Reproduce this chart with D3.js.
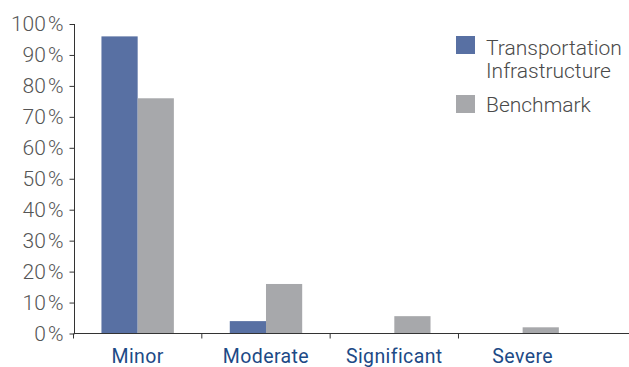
<!DOCTYPE html>
<html>
<head>
<meta charset="utf-8">
<script src="https://cdn.jsdelivr.net/npm/d3@7"></script>
<style>
  html, body { margin: 0; padding: 0; background: #fff; }
  svg { display: block; }
  text { font-family: Roboto, "Noto Sans", sans-serif; }
</style>
</head>
<body>
<svg id="chart" width="629" height="367"></svg>
<script>
// Share of incidents by severity level
const categories = ["Minor", "Moderate", "Significant", "Severe"];
const seriesNames = ["Transportation Infrastructure", "Benchmark"];
const transportation = [96, 4, 0, 0];
const benchmark = [76, 16, 5.6, 2];
const yTicks = [0, 10, 20, 30, 40, 50, 60, 70, 80, 90, 100];

const colors = ["#5870a3", "#a7a8ab"];

const svg = d3.select("#chart");
const axisY = 333.5;

const x = d3.scaleBand()
  .domain(categories)
  .range([73.5, 586.8])
  .paddingInner(0)
  .paddingOuter(0);

const inner = d3.scaleBand()
  .domain(seriesNames)
  .range([0, x.bandwidth()])
  .paddingInner(0)
  .paddingOuter(0.772);

const y = d3.scaleLinear().domain([0, 100]).range([axisY, 24]);

const values = [transportation, benchmark];

// bars
const groups = svg.append("g")
  .selectAll("g")
  .data(categories)
  .join("g")
  .attr("transform", d => `translate(${x(d)},0)`);

groups.selectAll("rect")
  .data((d, i) => seriesNames.map((s, j) => ({ s, v: values[j][i], j })))
  .join("rect")
  .attr("x", d => inner(d.s))
  .attr("width", inner.bandwidth())
  .attr("y", d => y(d.v))
  .attr("height", d => axisY - y(d.v))
  .attr("fill", d => colors[d.j]);

// y axis
const yAxis = svg.append("g")
  .attr("transform", "translate(74.5,0)")
  .call(d3.axisLeft(y).tickValues(yTicks).tickSize(5).tickPadding(6)
    .tickFormat(d => d + "\u200A%"));
yAxis.select(".domain").attr("stroke", "#333").attr("d", `M0,${y(100)}V${axisY}`);
yAxis.selectAll(".tick line").attr("stroke", "#333");
yAxis.selectAll(".tick text")
  .attr("fill", "#555")
  .style("font-size", "21px")
  .style("font-weight", 300);

// x axis
const xAxis = svg.append("g")
  .attr("transform", `translate(0,${axisY})`)
  .call(d3.axisBottom(x).tickSize(0).tickPadding(16));
xAxis.select(".domain").remove();
xAxis.append("line")
  .attr("x1", 74).attr("x2", 629)
  .attr("stroke", "#333");
// category boundary ticks
xAxis.selectAll(".sep")
  .data(categories)
  .join("line")
  .attr("class", "sep")
  .attr("x1", d => x(d)).attr("x2", d => x(d))
  .attr("y1", 0).attr("y2", 5)
  .attr("stroke", "#333");
xAxis.selectAll(".tick text")
  .attr("fill", "#1d4a86")
  .attr("dy", "0.71em")
  .style("font-size", "19.5px")
  .style("letter-spacing", "0.4px");

// legend
const legend = svg.append("g").attr("transform", "translate(456,36)");
const legendText = (yy, t) => legend.append("text").attr("x", 30).attr("y", yy).text(t)
  .attr("fill", "#4a4a4a").style("font-size", "21px").style("font-weight", 300);
legend.append("rect").attr("x", 0).attr("y", 0).attr("width", 19).attr("height", 18).attr("fill", colors[0]);
legendText(18.5, "Transportation");
legendText(42, "Infrastructure");
legend.append("rect").attr("x", 0).attr("y", 59).attr("width", 19).attr("height", 18).attr("fill", colors[1]);
legendText(76, "Benchmark");
</script>
</body>
</html>
